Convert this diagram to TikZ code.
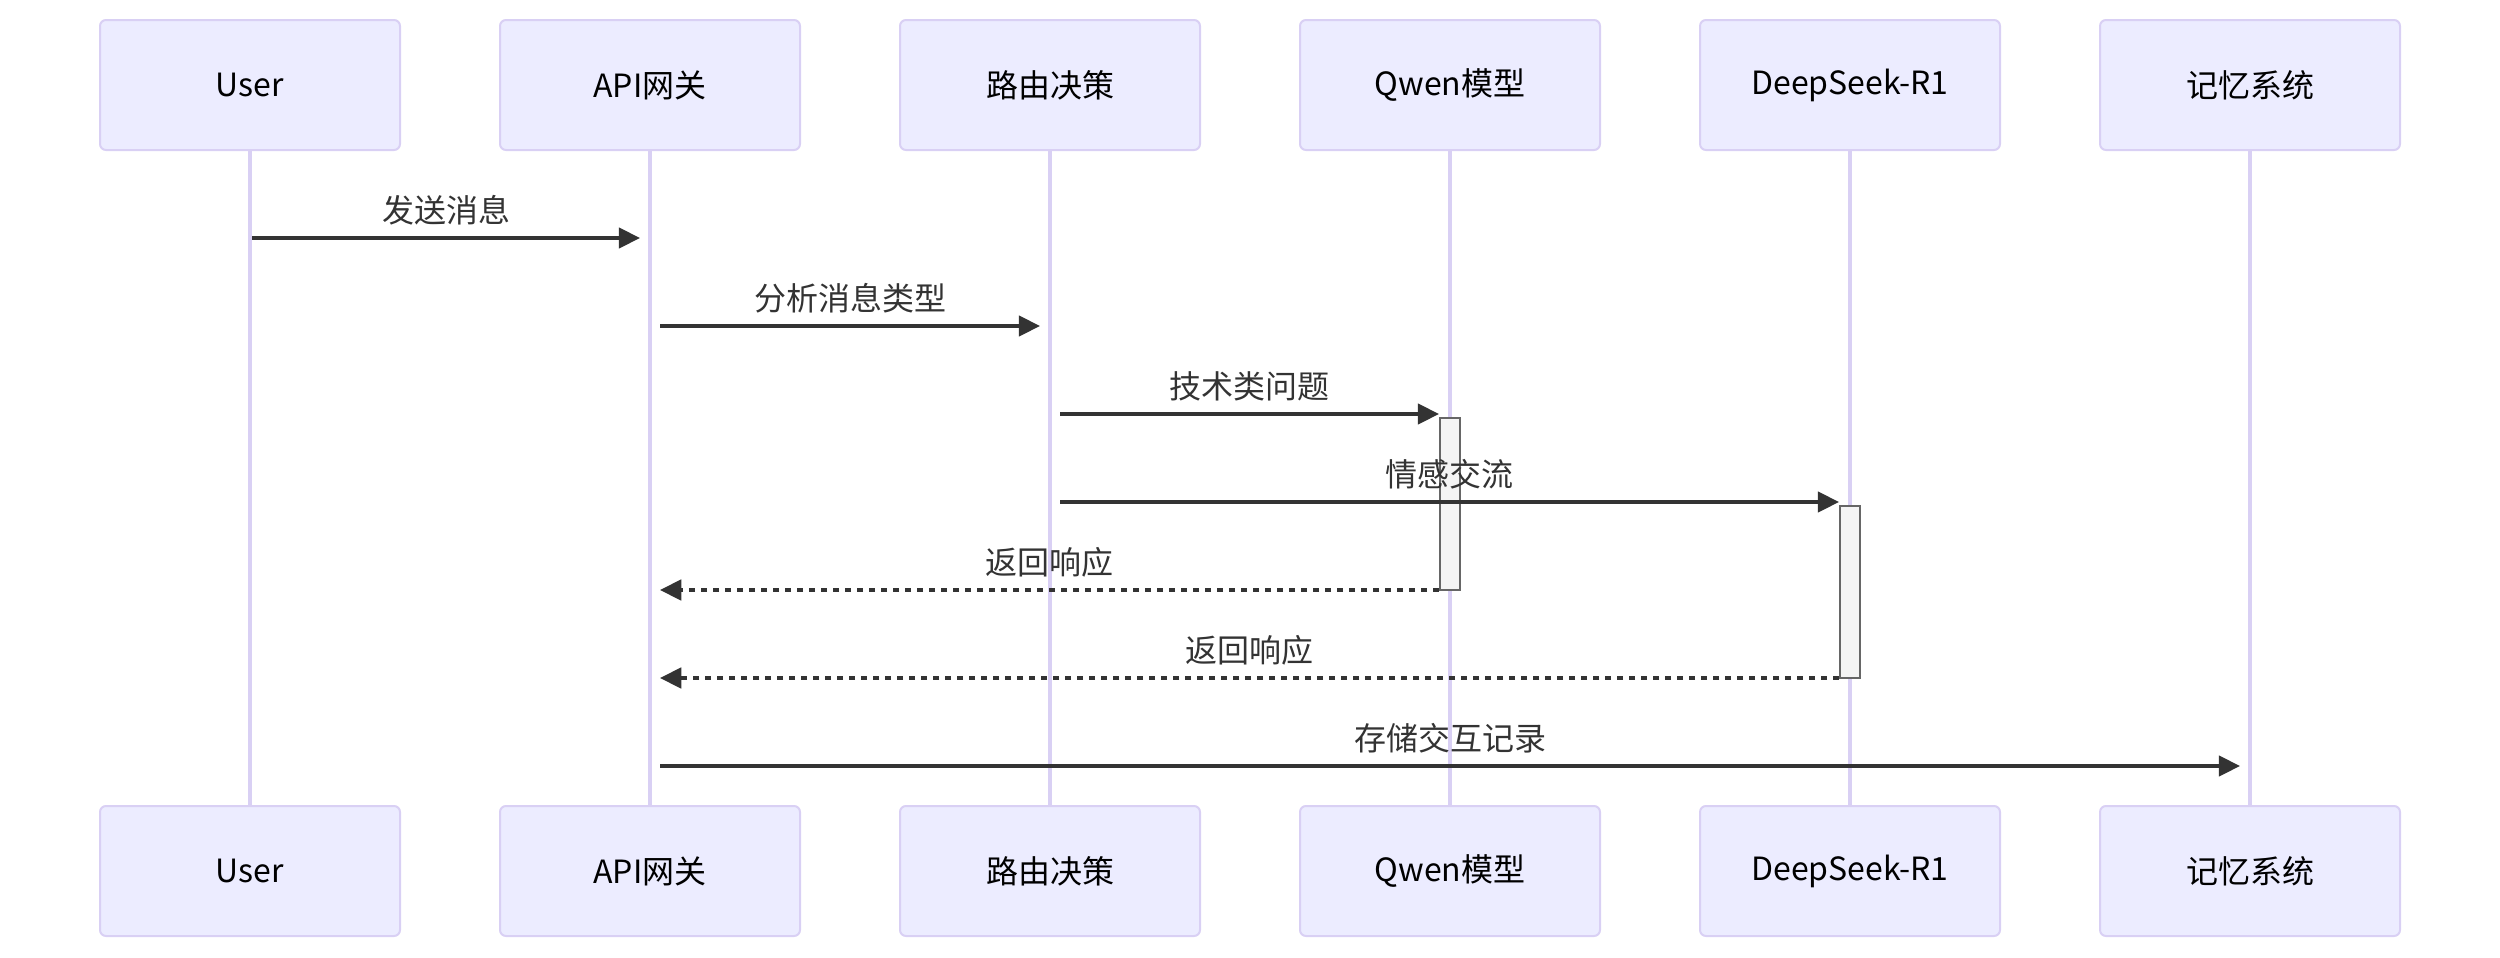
\documentclass[tikz,border=0pt]{standalone}
\usepackage{fontspec}
\setmainfont{Noto Sans CJK SC}
\usetikzlibrary{arrows.meta,calc}
\definecolor{actfill}{HTML}{ECECFF}
\definecolor{actline}{HTML}{D9D0F4}
\definecolor{msgcol}{HTML}{333333}
\definecolor{barfill}{HTML}{F4F4F4}
\definecolor{barline}{HTML}{666666}
\begin{document}
\begin{tikzpicture}[x=0.8pt,y=-0.8pt,
  actor/.style={draw=actline, fill=actfill, line width=0.8pt, rounded corners=2.4pt,
    minimum width=120pt, minimum height=52pt, inner sep=0pt, text=black,
    font=\fontsize{12.8}{15}\selectfont},
  lifeline/.style={draw=actline, line width=1.5pt},
  actbar/.style={draw=barline, fill=barfill, line width=0.8pt, minimum width=8pt,
    minimum height=68.8pt, inner sep=0pt},
  msgline/.style={draw=msgcol, line width=1.3pt, -{Triangle[length=8.5pt,width=8.2pt]}},
  retline/.style={msgline, dash pattern=on 2.4pt off 2.4pt},
  lbl/.style={text=msgcol, font=\fontsize{12.8}{15}\selectfont, inner sep=0pt, yshift=11.2pt}
]
\useasboundingbox (0,0) rectangle (1250,479);

% top actors
\node[actor] (tU) at (125,42.5) {User};
\node[actor] (tA) at (325,42.5) {API网关};
\node[actor] (tR) at (525,42.5) {路由决策};
\node[actor] (tQ) at (725,42.5) {Qwen模型};
\node[actor] (tD) at (925,42.5) {DeepSeek-R1};
\node[actor] (tM) at (1125,42.5) {记忆系统};
% bottom actors
\node[actor] (bU) at (125,435.5) {User};
\node[actor] (bA) at (325,435.5) {API网关};
\node[actor] (bR) at (525,435.5) {路由决策};
\node[actor] (bQ) at (725,435.5) {Qwen模型};
\node[actor] (bD) at (925,435.5) {DeepSeek-R1};
\node[actor] (bM) at (1125,435.5) {记忆系统};

% lifelines
\foreach \n in {U,A,R,Q,D,M} {\draw[lifeline] (t\n.south) -- (b\n.north);}

% activation bars
\node[actbar] (aQ) at (725,252) {};
\node[actbar] (aD) at (925,296) {};

% message rows
\coordinate (y1) at (0,119);
\coordinate (y2) at (0,163);
\coordinate (y3) at (0,207);
\coordinate (y4) at (0,251);
\coordinate (y5) at (0,295);
\coordinate (y6) at (0,339);
\coordinate (y7) at (0,383);

\draw[msgline] ([xshift=0.8pt]tU.south |- y1) -- node[lbl]{发送消息} ([xshift=-4pt]tA.south |- y1);
\draw[msgline] ([xshift=4pt]tA.south |- y2) -- node[lbl]{分析消息类型} ([xshift=-4pt]tR.south |- y2);
\draw[msgline] ([xshift=4pt]tR.south |- y3) -- node[lbl]{技术类问题} (aQ.west |- y3);
\draw[msgline] ([xshift=4pt]tR.south |- y4) -- node[lbl]{情感交流} (aD.west |- y4);
\draw[retline] (aQ.west |- y5) -- node[lbl]{返回响应} ([xshift=4pt]tA.south |- y5);
\draw[retline] (aD.west |- y6) -- node[lbl]{返回响应} ([xshift=4pt]tA.south |- y6);
\draw[msgline] ([xshift=4pt]tA.south |- y7) -- node[lbl]{存储交互记录} ([xshift=-4pt]tM.south |- y7);
\end{tikzpicture}
\end{document}
